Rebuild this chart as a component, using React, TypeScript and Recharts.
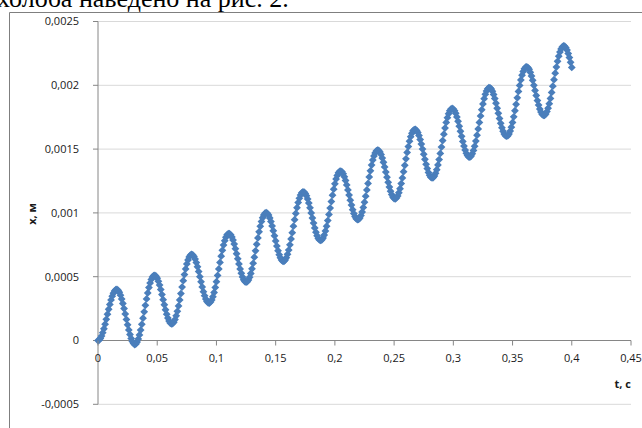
import { CartesianGrid, ReferenceLine, Scatter, ScatterChart, XAxis, YAxis } from "recharts"

// displacement x, micrometres, sampled every 1 ms from t = 0 to 0.4 s
const T_STEP = 0.001
const displacementUm = [
  0, 4, 16, 35, 61, 92, 128, 166, 206, 245, 283, 318, 347, 371, 388, 398,
  400, 393, 378, 355, 325, 290, 250, 208, 165, 123, 83, 47, 16, -7, -23,
  -33, -27, -12, 12, 44, 82, 127, 175, 225, 276, 326, 373, 415, 450, 479, 498,
  509, 511, 504, 488, 464, 434, 399, 360, 320, 280, 241, 206, 176, 153, 137,
  131, 133, 144, 164, 193, 229, 271, 318, 368, 419, 469, 517, 561, 600, 631, 655,
  669, 675, 671, 659, 638, 611, 578, 540, 500, 460, 420, 383, 351, 325, 306,
  296, 294, 302, 318, 343, 376, 416, 461, 510, 561, 612, 661, 707, 748, 782, 809,
  828, 837, 837, 828, 811, 787, 756, 720, 680, 640, 600, 561, 527, 498, 476,
  462, 457, 461, 474, 495, 525, 562, 605, 653, 703, 754, 804, 852, 895, 932, 962,
  984, 998, 1002, 997, 983, 961, 932, 898, 860, 820, 780, 740, 704, 673, 648,
  631, 622, 621, 630, 649, 675, 709, 750, 796, 845, 896, 947, 996, 1041, 1081, 1114,
  1140, 1157, 1164, 1163, 1153, 1134, 1108, 1077, 1040, 1000, 960, 920, 882, 849, 821,
  800, 788, 784, 789, 803, 826, 858, 896, 940, 988, 1038, 1089, 1139, 1186, 1228, 1265,
  1293, 1314, 1326, 1328, 1322, 1306, 1283, 1254, 1219, 1180, 1140, 1100, 1061, 1025, 995,
  971, 955, 948, 949, 960, 979, 1007, 1043, 1084, 1131, 1180, 1231, 1282, 1330, 1375, 1414,
  1446, 1470, 1485, 1492, 1489, 1477, 1457, 1430, 1397, 1360, 1320, 1280, 1240, 1203, 1170,
  1144, 1124, 1113, 1111, 1117, 1133, 1158, 1190, 1230, 1274, 1323, 1373, 1424, 1474, 1520, 1562,
  1597, 1624, 1643, 1653, 1654, 1646, 1630, 1606, 1575, 1539, 1500, 1460, 1420, 1381, 1347,
  1317, 1295, 1280, 1274, 1277, 1289, 1310, 1339, 1376, 1418, 1466, 1516, 1567, 1617, 1665, 1709,
  1746, 1777, 1800, 1814, 1818, 1814, 1801, 1780, 1752, 1718, 1680, 1640, 1600, 1560, 1524,
  1492, 1467, 1449, 1439, 1438, 1446, 1464, 1490, 1523, 1563, 1609, 1658, 1709, 1760, 1809, 1854,
  1895, 1929, 1955, 1972, 1981, 1980, 1971, 1953, 1928, 1896, 1860, 1820, 1780, 1740, 1702,
  1668, 1640, 1618, 1605, 1601, 1605, 1619, 1641, 1672, 1709, 1753, 1801, 1851, 1902, 1952, 1999,
  2042, 2079, 2108, 2129, 2142, 2145, 2139, 2125, 2102, 2073, 2039, 2000, 1960, 1920, 1880,
  1845, 1814, 1790, 1773, 1765, 1765, 1775, 1794, 1821, 1856, 1897, 1944, 1993, 2044, 2095,
  2143, 2188, 2228, 2260, 2285, 2301, 2308, 2306, 2295, 2276, 2249, 2217, 2180, 2140,
]

const timeTicks = [0, 0.05, 0.1, 0.15, 0.2, 0.25, 0.3, 0.35, 0.4, 0.45]
const xTicks = [-0.0005, 0, 0.0005, 0.001, 0.0015, 0.002, 0.0025]

const data = displacementUm.map((um, i) => ({ t: +(i * T_STEP).toFixed(3), x: um / 1e6 }))

const W = 642
const H = 428
const PLOT_LEFT = 98
const PLOT_RIGHT = 631
const PLOT_TOP = 21.5
const PLOT_BOTTOM = 404.3
const X_AXIS_H = 20
const Y_MIN = xTicks[0]
const Y_MAX = xTicks[xTicks.length - 1]
// pixel row of x = 0, where the time axis crosses
const Y0 = PLOT_TOP + ((Y_MAX - 0) / (Y_MAX - Y_MIN)) * (PLOT_BOTTOM - PLOT_TOP)

const AXIS = "#868686"
const LABEL = "#1a1a1a"
const FONT = "'Open Sans', sans-serif"
const BLUE = "#4A7EBB"

const comma = (v: number) => String(v).replace(".", ",")

function Diamond(props: any) {
  const { cx, cy } = props
  if (cx == null || cy == null) return null
  const r = 3.9
  return <path d={`M${cx},${cy - r}L${cx + r},${cy}L${cx},${cy + r}L${cx - r},${cy}Z`} fill={BLUE} />
}

function TimeTick(props: any) {
  const { x, payload } = props
  return (
    <g>
      <line x1={x} x2={x} y1={Y0} y2={Y0 + 5} stroke={AXIS} />
      <text x={x} y={Y0 + 21} textAnchor="middle" fill={LABEL} fontSize={11} fontFamily={FONT}>
        {comma(payload.value)}
      </text>
    </g>
  )
}

export default function App() {
  return (
    <div style={{ position: "absolute", left: 0, top: 0, width: W, height: H, background: "#fff", overflow: "hidden" }}>
      <ScatterChart
        width={W}
        height={H}
        margin={{ top: PLOT_TOP, right: W - PLOT_RIGHT, bottom: H - PLOT_BOTTOM - X_AXIS_H, left: 0 }}
      >
        <CartesianGrid vertical={false} stroke="#D9D9D9" />
        <XAxis
          type="number"
          dataKey="t"
          domain={[0, 0.45]}
          ticks={timeTicks}
          interval={0}
          height={X_AXIS_H}
          axisLine={false}
          tickLine={false}
          tick={(p: any) => <TimeTick {...p} />}
        />
        <YAxis
          type="number"
          dataKey="x"
          domain={[Y_MIN, Y_MAX]}
          ticks={xTicks}
          interval={0}
          width={PLOT_LEFT}
          axisLine={{ stroke: AXIS }}
          tickLine={{ stroke: AXIS }}
          tickSize={5}
          tickMargin={14}
          tickFormatter={comma}
          tick={{ fill: LABEL, fontSize: 11, fontFamily: FONT }}
        />
        <ReferenceLine y={0} stroke={AXIS} />
        <Scatter data={data} shape={<Diamond />} isAnimationActive={false} />
      </ScatterChart>
      <svg width={W} height={H} style={{ position: "absolute", left: 0, top: 0, pointerEvents: "none" }}>
        <text x={-3} y={6.5} fontFamily="'Liberation Serif', serif" fontSize={26} fill="#000">
          холоба наведено на рис. 2.
        </text>
        <path d={`M9.5,${H + 10}V12.5H${W + 10}`} fill="none" stroke="#7F7F7F" />
        <text
          x={36}
          y={214}
          transform="rotate(-90 36 214)"
          textAnchor="middle"
          fontFamily={FONT}
          fontSize={11}
          fontWeight="bold"
          fill={LABEL}
        >
          x, м
        </text>
        <text x={PLOT_RIGHT} y={388} textAnchor="end" fontFamily={FONT} fontSize={11} fontWeight="bold" fill={LABEL}>
          t, c
        </text>
      </svg>
    </div>
  )
}
